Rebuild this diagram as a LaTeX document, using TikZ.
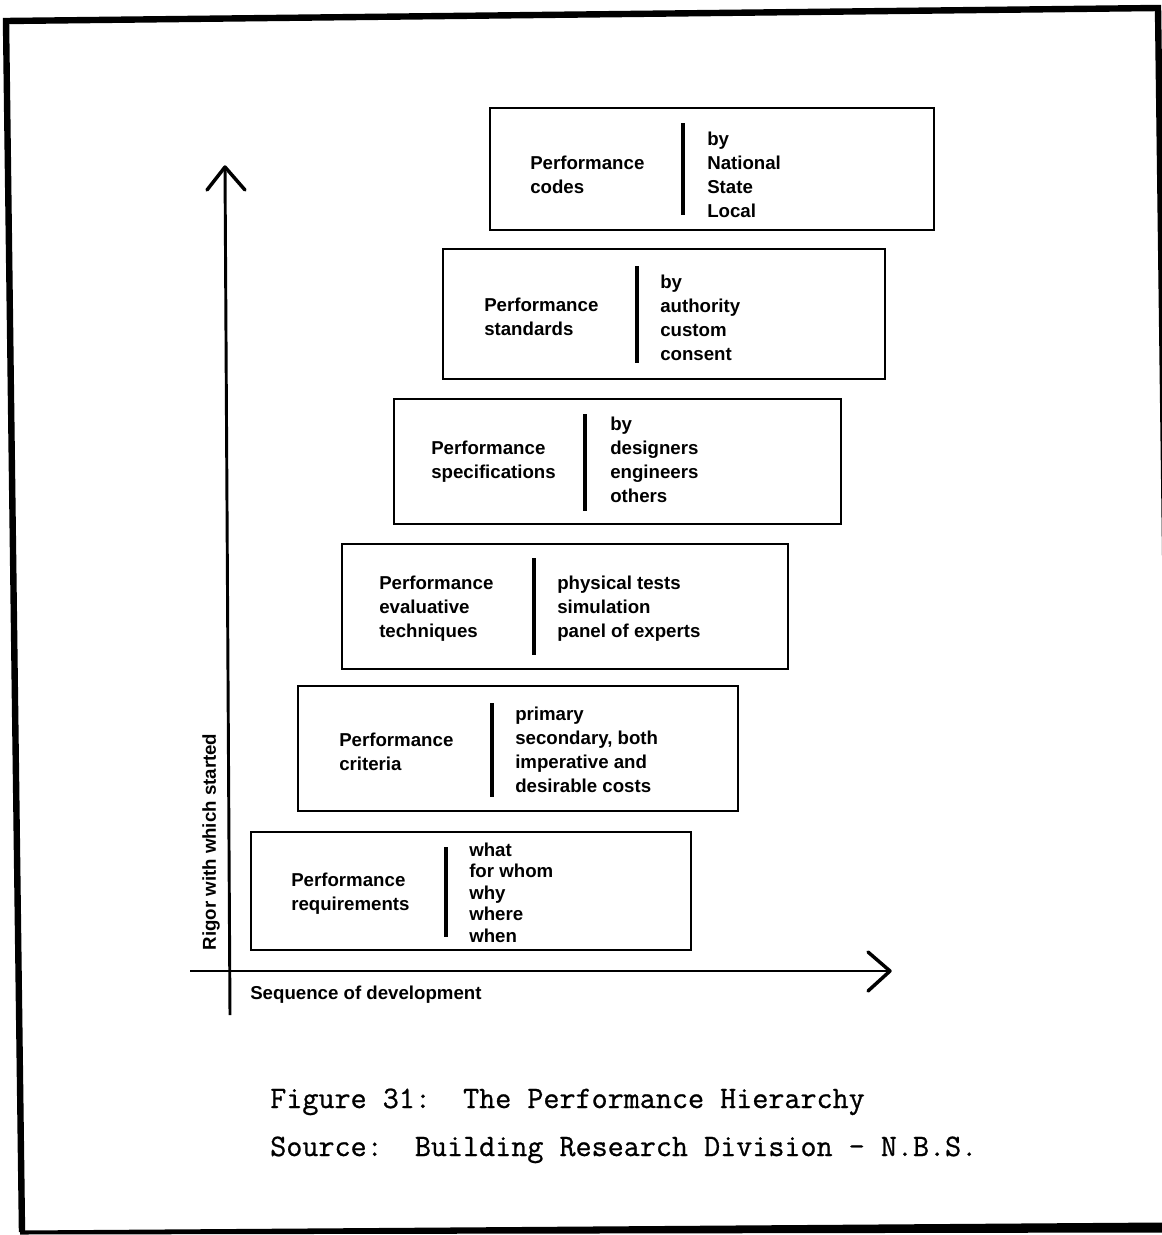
\documentclass[tikz,border=0pt]{standalone}
\usepackage{fontspec}
\setsansfont{Liberation Sans}
\newfontfamily\typewriter[FakeBold=0.8]{Latin Modern Mono}
\usetikzlibrary{fit}

% invisible strut that fixes the height of the first line of a column
\newcommand\firstline{\rule{0pt}{15pt}}

\tikzset{
  frameline/.style={line width=4.8pt, line join=miter},
  box/.style={draw, line width=2.2pt, inner sep=0pt},
  divider/.style={line width=2.4pt},
  axis/.style={line width=2.2pt},
  tipline/.style={line width=2.6pt, line cap=round, line join=round},
  label/.style={font=\sffamily\bfseries\fontsize{14}{18}\selectfont,
                inner sep=0pt, anchor=north west, align=left},
  axislabel/.style={font=\sffamily\bfseries\fontsize{14}{18}\selectfont, inner sep=0pt},
  caption/.style={font=\typewriter\fontsize{23.4}{28}\selectfont, inner sep=0pt, anchor=base west},
}

\begin{document}
\begin{tikzpicture}[x=0.75pt, y=-0.75pt]
\useasboundingbox (0,0) rectangle (1162,1235);

% page frame
\begin{scope}
  \clip (0,0) rectangle (1162,1235);
  \draw[frameline] (22,1232) -- (6,21) -- (1158,8) -- (1174,1227);
  \fill (20,1230.5) -- (1162,1222.5) -- (1162,1232.5) -- (20,1234.5) -- cycle;
\end{scope}

% axes
\coordinate (yfoot) at (230,1015);
\coordinate (ytip)  at (225,167);
\coordinate (ywl)   at (207,190);
\coordinate (ywr)   at (245,190);
\coordinate (xfoot) at (190,971);
\coordinate (xtip)  at (890,971);
\coordinate (xwu)   at (868,952);
\coordinate (xwd)   at (868,991);
\draw[axis] (yfoot) -- (ytip);
\draw[tipline] (ywl) -- (ytip) -- (ywr);
\draw[axis] (xfoot) -- (xtip);
\draw[tipline] (xwu) -- (xtip) -- (xwd);

\node[axislabel, rotate=90] (rigor) at (211,842) {Rigor with which started};
\node[axislabel, anchor=base west] (sequence) at (250,999) {Sequence of development};

% the six levels of the hierarchy
\node[box, fit={(490,108) (934,230)}] (codes) {};
\draw[divider] (683,123) -- (683,215);
\node[label] (codesL) at (530,149) {\firstline Performance\\codes};
\node[label] (codesR) at (707,125) {\firstline by\\National\\State\\Local};

\node[box, fit={(443,249) (885,379)}] (standards) {};
\draw[divider] (637,266) -- (637,363);
\node[label] (standardsL) at (484,291) {\firstline Performance\\standards};
\node[label] (standardsR) at (660,268) {\firstline by\\authority\\custom\\consent};

\node[box, fit={(394,399) (841,524)}] (specs) {};
\draw[divider] (585,414) -- (585,511);
\node[label] (specsL) at (431,434) {\firstline Performance\\specifications};
\node[label] (specsR) at (610,410) {\firstline by\\designers\\engineers\\others};

\node[box, fit={(342,544) (788,669)}] (evals) {};
\draw[divider] (534,558) -- (534,655);
\node[label] (evalsL) at (379,569) {\firstline Performance\\evaluative\\techniques};
\node[label] (evalsR) at (557,569) {\firstline physical tests\\simulation\\panel of experts};

\node[box, fit={(298,686) (738,811)}] (criteria) {};
\draw[divider] (492,703) -- (492,797);
\node[label] (criteriaL) at (339,726) {\firstline Performance\\criteria};
\node[label] (criteriaR) at (515,700) {\firstline primary\\secondary, both\\imperative and\\desirable costs};

\node[box, fit={(251,832) (691,950)}] (reqs) {};
\draw[divider] (446,847) -- (446,937);
\node[label] (reqsL) at (291,866) {\firstline Performance\\requirements};
\node[label, font=\sffamily\bfseries\fontsize{14}{16.1}\selectfont] (reqsR) at (469,836)
  {\firstline what\\for whom\\why\\where\\when};

% caption
\node[caption] (title) at (270,1108) {Figure 31:\ \ The Performance Hierarchy};
\node[caption] (source) at (270,1156) {Source:\ \ Building Research Division - N.B.S.};
\end{tikzpicture}
\end{document}
